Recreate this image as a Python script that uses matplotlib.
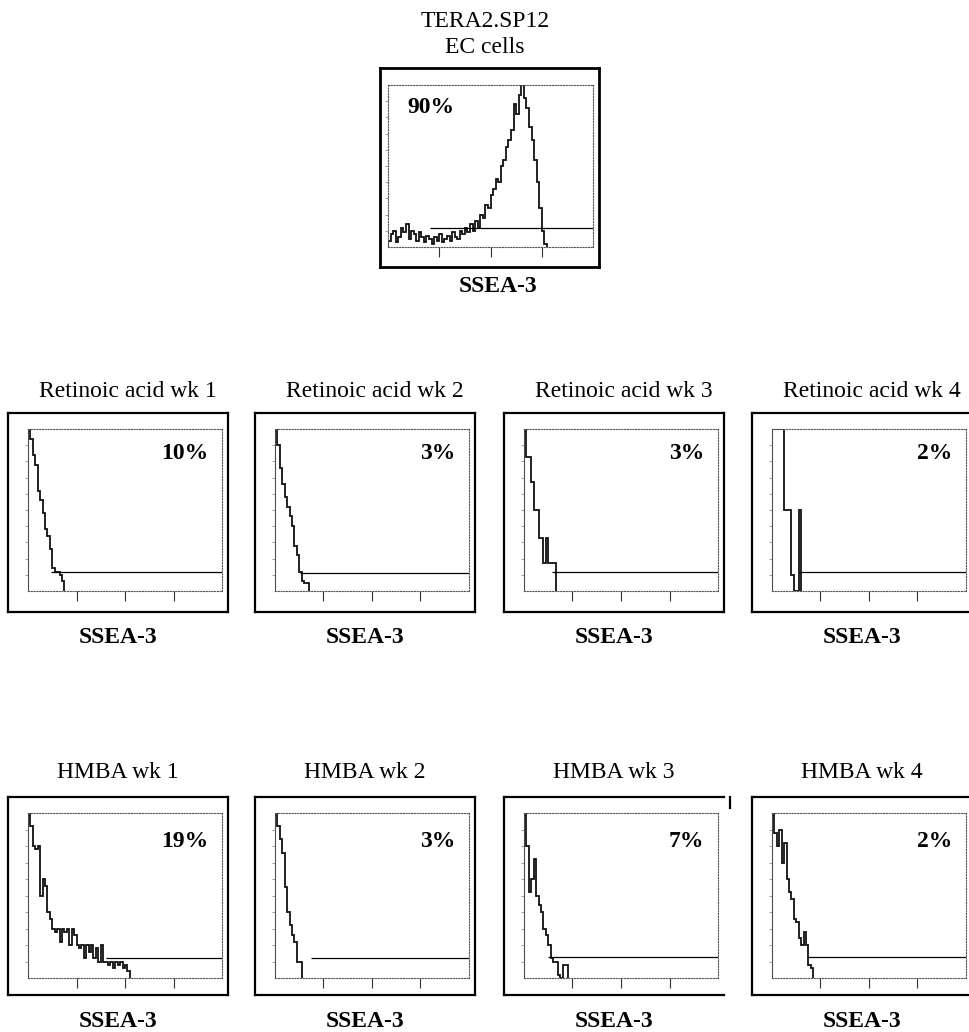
import numpy as np
import matplotlib
matplotlib.use("Agg")
import matplotlib.pyplot as plt
from matplotlib.lines import Line2D
from matplotlib.ticker import FixedLocator, LogLocator, NullFormatter

plt.rcParams["font.family"] = ["Liberation Serif", "DejaVu Serif"]

# ---------------- data ----------------
BIN_DECADES = 0.05          # width of one histogram channel, in log decades
N_DECADES = 4

top_title = ["TERA2.SP12", "EC cells"]
top_label = "90%"
top_counts = [4, 8, 10, 3, 6, 12, 9, 14, 5, 10, 8, 4, 9, 6, 3, 7,
              5, 2, 6, 4, 8, 3, 5, 7, 4, 9, 6, 5, 10, 8, 12, 9,
              14, 10, 16, 12, 20, 18, 26, 24, 32, 36, 42, 40, 50, 54,
              62, 66, 72, 88, 82, 94, 100, 92, 86, 74, 66, 54, 40, 24, 10, 2]
top_gate_start = 0.82       # decades
top_gate_level = 12

ra_titles = ["Retinoic acid wk 1", "Retinoic acid wk 2",
             "Retinoic acid wk 3", "Retinoic acid wk 4"]
ra_labels = ["10%", "3%", "3%", "2%"]
ra_wk1 = [100, 94, 84, 78, 62, 56, 48, 38, 34, 26, 14, 12, 12, 10, 6]
ra_wk2 = [100, 90, 76, 66, 58, 52, 46, 40, 28, 22, 12, 6, 5, 5]
ra_wk3 = [100, 83, 83, 67, 50, 50, 33, 33, 17, 33, 17, 17, 17]
ra_wk4 = [100, 100, 100, 100, 100, 50, 50, 50, 10, 0, 0, 50]
ra_gate_start = [0.48, 0.51, 0.58, 0.55]
ra_gate_level = [12, 11, 12, 12]

hm_titles = ["HMBA wk 1", "HMBA wk 2", "HMBA wk 3", "HMBA wk 4"]
hm_labels = ["19%", "3%", "7%", "2%"]
hm_wk1 = [100, 92, 80, 78, 80, 50, 60, 56, 40, 36, 30, 28, 30, 22, 30, 28,
          30, 20, 30, 26, 20, 18, 20, 12, 20, 16, 20, 12, 18, 10, 20, 10,
          10, 8, 10, 6, 10, 8, 10, 6, 8, 4]
hm_wk2 = [100, 92, 84, 76, 55, 40, 32, 26, 22, 10, 10]
hm_wk3 = [100, 80, 52, 60, 72, 50, 44, 40, 30, 26, 20, 12, 10, 10, 2, 0, 8, 8]
hm_wk4 = [100, 88, 80, 90, 70, 82, 60, 52, 48, 36, 34, 24, 20, 28, 20, 8, 6]
hm_gate_start = [1.6, 0.75, 0.49, 0.75]
hm_gate_level = [12, 12, 13, 13]

x_label = "SSEA-3"

# ---------------- layout (pixels) ----------------
W, H = 970, 1032
fig = plt.figure(figsize=(W / 100, H / 100), dpi=100)
fig.patch.set_facecolor("white")


def fx(x):
    return x / W


def fy(y):
    return 1 - y / H


def text(x, y, s, ha="center", weight="normal", size=17):
    fig.text(fx(x), fy(y), s, ha=ha, va="baseline", fontsize=size,
             fontweight=weight, color="black")


def box(l, t, r, b, lw=1.6, sides="tlbr"):
    segs = {"t": ([l, r], [t, t]), "b": ([l, r], [b, b]),
            "l": ([l, l], [t, b]), "r": ([r, r], [t, b])}
    for s in sides:
        xs, ys = segs[s]
        fig.add_artist(Line2D([fx(v) for v in xs], [fy(v) for v in ys],
                              transform=fig.transFigure, color="black",
                              lw=lw, solid_capstyle="projecting"))


def histo(l, t, r, b, counts, gate_start, gate_level):
    ax = fig.add_axes([fx(l), fy(b), (r - l) / W, (b - t) / H])
    ax.set_facecolor("none")
    edges = 10 ** (np.arange(len(counts) + 1) * BIN_DECADES)
    ax.stairs(counts, edges, color="#111111", lw=1.3, baseline=0)
    ax.hlines(gate_level, 10 ** gate_start, 10 ** N_DECADES,
              color="black", lw=0.9)
    ax.set_xscale("log")
    ax.set_xlim(1, 10 ** N_DECADES)
    ax.set_ylim(0, 100)
    ax.xaxis.set_major_locator(FixedLocator([10, 100, 1000]))
    ax.xaxis.set_minor_locator(LogLocator(base=10, subs=np.arange(2, 10)))
    ax.xaxis.set_minor_formatter(NullFormatter())
    ax.set_yticks(np.arange(10, 100, 10))
    ax.tick_params(axis="x", which="major", direction="out", length=7,
                   width=0.8, colors="#333333", labelbottom=False)
    ax.tick_params(axis="x", which="minor", direction="out", length=2.5,
                   width=0.5, colors="#666666")
    ax.tick_params(axis="y", which="both", direction="out", length=2,
                   width=0.5, colors="#777777", labelleft=False)
    for sp in ax.spines.values():
        sp.set_linestyle((0, (1, 1.5)))
        sp.set_linewidth(0.8)
        sp.set_color("#555555")
    return ax


# ---- top panel ----
text(485, 27, top_title[0])
text(485, 53, top_title[1])
box(380, 68, 599, 267, lw=2.0)
histo(388, 85, 593, 247, top_counts, top_gate_start, top_gate_level)
text(407, 113, top_label, ha="left", weight="bold")
text(498, 292, x_label, weight="bold")

# ---- bottom rows ----
box_left = [8, 255, 504, 752]
BOX_W = 220
INNER_OFF = 20
INNER_W = 194

rows = [
    dict(titles=ra_titles, labels=ra_labels,
         counts=[ra_wk1, ra_wk2, ra_wk3, ra_wk4],
         gstart=ra_gate_start, glevel=ra_gate_level,
         box_t=413, box_b=612, in_t=429, in_b=591,
         title_y=397, label_y=459, xl_y=643, title_dx=10,
         sides=["tlbr"] * 4),
    dict(titles=hm_titles, labels=hm_labels,
         counts=[hm_wk1, hm_wk2, hm_wk3, hm_wk4],
         gstart=hm_gate_start, glevel=hm_gate_level,
         box_t=797, box_b=995, in_t=813, in_b=978,
         title_y=778, label_y=847, xl_y=1027, title_dx=0,
         sides=["tlbr", "tlbr", "tlb", "tlbr"]),
]

for row in rows:
    for i in range(4):
        bl = box_left[i]
        br = bl + BOX_W
        il = bl + INNER_OFF
        ir = il + INNER_W
        cx = (bl + br) / 2
        text(cx + row["title_dx"], row["title_y"], row["titles"][i])
        box(bl, row["box_t"], br, row["box_b"], lw=1.6, sides=row["sides"][i])
        histo(il, row["in_t"], ir, row["in_b"], row["counts"][i],
              row["gstart"][i], row["glevel"][i])
        text(ir - 14, row["label_y"], row["labels"][i], ha="right",
             weight="bold")
        text(cx, row["xl_y"], x_label, weight="bold")

# small stub of the scanned frame on HMBA wk 3
box(730, 797, 730, 808, lw=1.6, sides="l")

fig.savefig("out.png", dpi=100, facecolor="white")
